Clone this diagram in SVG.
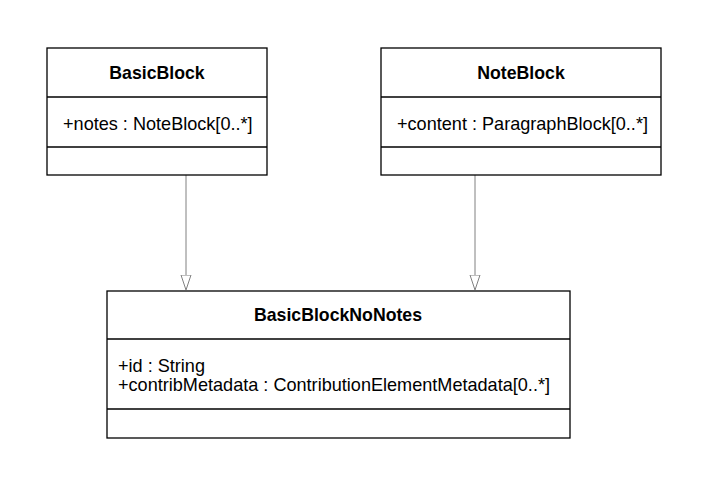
<svg xmlns="http://www.w3.org/2000/svg" width="709" height="487" viewBox="0 0 709 487">
<defs>
<style>
.box{fill:#fff;stroke:#000;stroke-width:1.3}
.sep{stroke:#000;stroke-width:1.3}
.title{font-family:"Liberation Sans",Arial,sans-serif;font-size:17.7px;font-weight:bold;text-anchor:middle;fill:#000}
.attr{font-family:"Liberation Sans",Arial,sans-serif;font-size:18.1px;fill:#000}
.conn{stroke:#808080;stroke-width:1;fill:none}
</style>
<marker id="tri" markerWidth="17" markerHeight="12" refX="0.5" refY="5.5" orient="auto" markerUnits="userSpaceOnUse">
<path d="M0.5,0.5 L15.5,5.5 L0.5,10.5 Z" fill="#fff" stroke="#808080" stroke-width="1"/>
</marker>
</defs>
<rect width="709" height="487" fill="#fff"/>
<g id="connectors">
<line class="conn" x1="186" y1="175" x2="186" y2="275" marker-end="url(#tri)"/>
<line class="conn" x1="475" y1="175" x2="475" y2="275" marker-end="url(#tri)"/>
</g>
<g id="BasicBlock">
<rect class="box" x="47" y="48" width="220" height="127"/>
<line class="sep" x1="47" y1="97" x2="267" y2="97"/>
<line class="sep" x1="47" y1="147" x2="267" y2="147"/>
<text class="title" x="157" y="79">BasicBlock</text>
<text class="attr" x="63" y="130">+notes : NoteBlock[0..*]</text>
</g>
<g id="NoteBlock">
<rect class="box" x="381" y="48" width="280" height="127"/>
<line class="sep" x1="381" y1="97" x2="661" y2="97"/>
<line class="sep" x1="381" y1="147" x2="661" y2="147"/>
<text class="title" x="521" y="79">NoteBlock</text>
<text class="attr" x="397" y="130">+content : ParagraphBlock[0..*]</text>
</g>
<g id="BasicBlockNoNotes">
<rect class="box" x="107" y="291" width="463" height="147"/>
<line class="sep" x1="107" y1="339" x2="570" y2="339"/>
<line class="sep" x1="107" y1="409" x2="570" y2="409"/>
<text class="title" x="338" y="321">BasicBlockNoNotes</text>
<text class="attr" x="118" y="372">+id : String</text>
<text class="attr" x="118" y="391">+contribMetadata : ContributionElementMetadata[0..*]</text>
</g>
</svg>
